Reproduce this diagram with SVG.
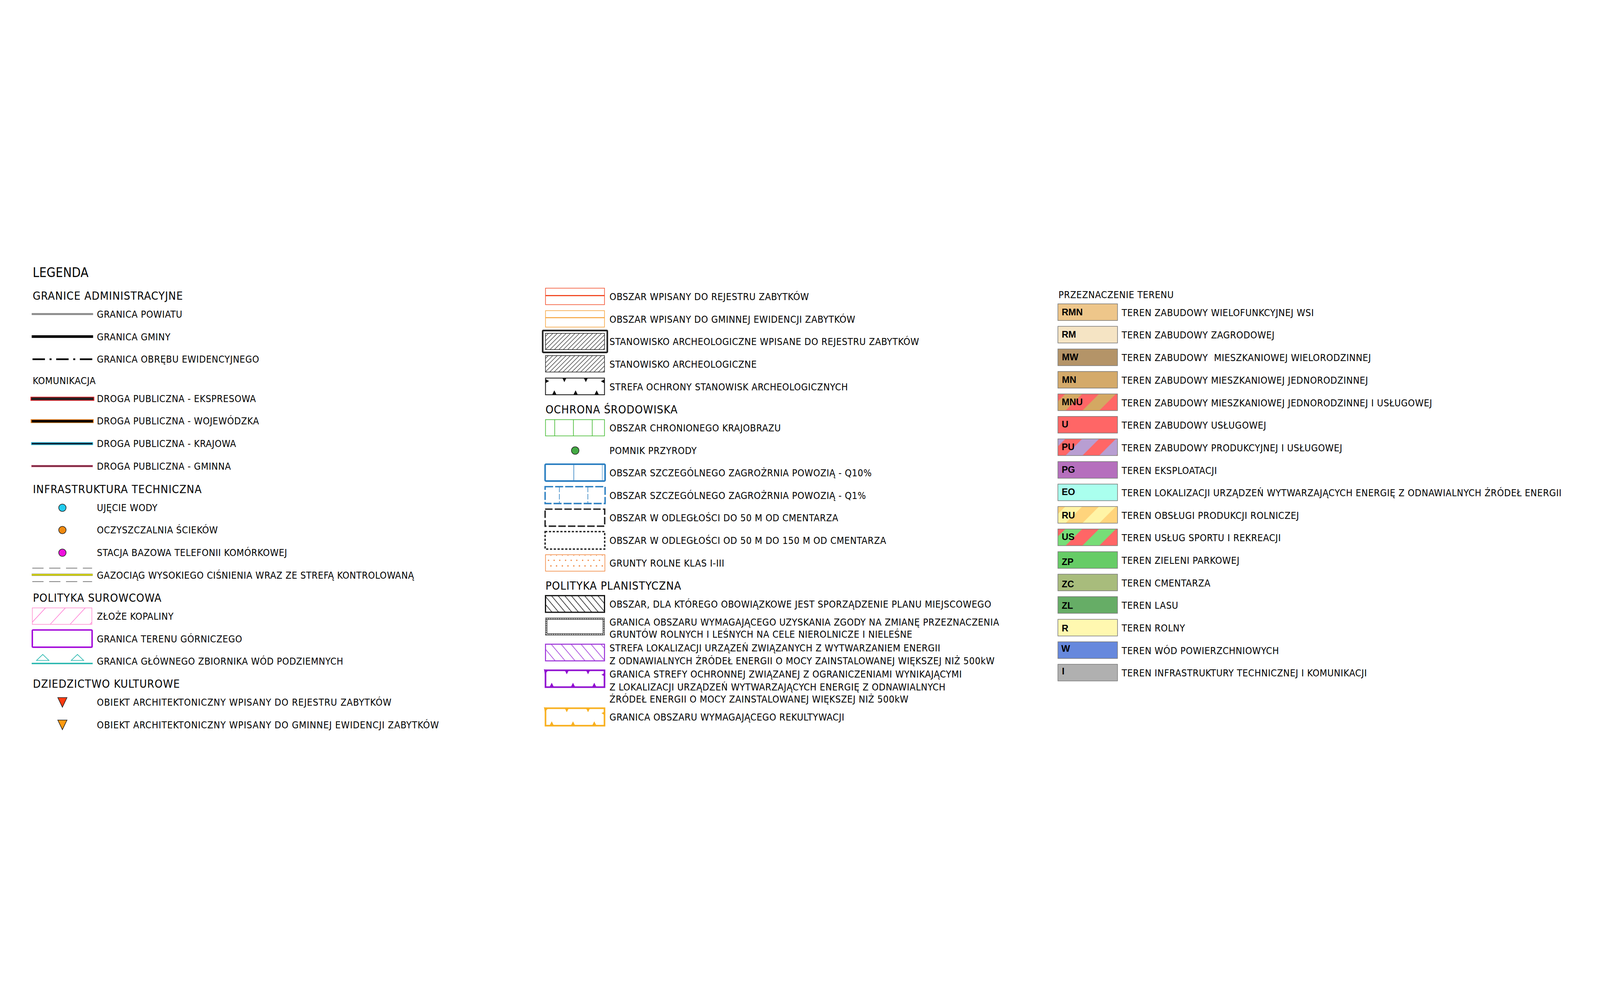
<svg xmlns="http://www.w3.org/2000/svg" width="7975" height="2549" viewBox="0 0 7975 2549">
<style>
svg:root{width:100vw;height:100vh}
text{font-family:"DejaVu Sans Condensed","DejaVu Sans",sans-serif;font-stretch:condensed;font-size:48px;letter-spacing:1.2px;fill:#000}
.h{font-size:56px;letter-spacing:2px}
.lg{font-size:64px;letter-spacing:0.5px}
.lb{font-family:"Liberation Sans",Arial,sans-serif;font-stretch:normal;font-weight:bold;font-size:46px;letter-spacing:0}
.bx{stroke:#7a7a7a;stroke-width:3}
.nf{fill:none}
</style>
<defs>
<pattern id="hatchSlash" patternUnits="userSpaceOnUse" width="15.6" height="20" patternTransform="rotate(45)">
<line x1="7.8" y1="0" x2="7.8" y2="20" stroke="#222" stroke-width="2.5"/>
</pattern>
<pattern id="hatchBack" patternUnits="userSpaceOnUse" width="25.3" height="20" patternTransform="rotate(-40)">
<line x1="12" y1="0" x2="12" y2="20" stroke="#111" stroke-width="3"/>
</pattern>
<pattern id="hatchPurple" patternUnits="userSpaceOnUse" width="38" height="20" patternTransform="rotate(-40)">
<line x1="19" y1="0" x2="19" y2="20" stroke="#9b30d8" stroke-width="3"/>
</pattern>
<pattern id="stMNU" patternUnits="userSpaceOnUse" x="102" y="0" width="168" height="168">
<rect width="168" height="168" fill="#d4a862"/>
<path d="M0,0H84L0,84Z M168,0V84L84,168H0Z" fill="#ff6666"/>
</pattern>
<pattern id="stPU" patternUnits="userSpaceOnUse" x="158" y="0" width="168" height="168">
<rect width="168" height="168" fill="#ff6666"/>
<path d="M0,0H84L0,84Z M168,0V84L84,168H0Z" fill="#b89ed2"/>
</pattern>
<pattern id="stRU" patternUnits="userSpaceOnUse" x="159" y="0" width="168" height="168">
<rect width="168" height="168" fill="#fff4a6"/>
<path d="M0,0H84L0,84Z M168,0V84L84,168H0Z" fill="#ffd47c"/>
</pattern>
<pattern id="stUS" patternUnits="userSpaceOnUse" x="103" y="0" width="168" height="168">
<rect width="168" height="168" fill="#77dd77"/>
<path d="M0,0H84L0,84Z M168,0V84L84,168H0Z" fill="#ff6666"/>
</pattern>
<clipPath id="clipZloze"><rect x="161" y="1822" width="297" height="82"/></clipPath>
<path id="tDown" d="M-10,0L10,0L0,20Z"/>
<path id="tUp" d="M-11,0L11,0L0,-22Z"/>
<path id="tRight" d="M0,-10L0,10L18,0Z"/>
<path id="tLeft" d="M0,-10L0,10L-18,0Z"/>
</defs>

<g id="legend-title"><text class="lg" x="163" y="173">LEGENDA</text></g>

<g id="left-column">
<g id="h-granice"><text class="h" x="163" y="286">GRANICE ADMINISTRACYJNE</text></g>
<g id="granica-powiatu"><line x1="158" y1="358" x2="464" y2="358" stroke="#8c8c8c" stroke-width="10"/><text x="483" y="376">GRANICA POWIATU</text></g>
<g id="granica-gminy"><line x1="158" y1="470" x2="464" y2="470" stroke="#000" stroke-width="13"/><text x="483" y="488">GRANICA GMINY</text></g>
<g id="granica-obrebu"><line x1="162" y1="583" x2="461" y2="583" stroke="#000" stroke-width="8" stroke-dasharray="62 23 10 23"/><text x="483" y="600">GRANICA OBRĘBU EWIDENCYJNEGO</text></g>
<g id="h-komunikacja"><text x="163" y="707">KOMUNIKACJA</text></g>
<g id="droga-ekspresowa"><rect x="152" y="770" width="318" height="20" fill="#e31e24"/><rect x="156" y="773.5" width="310" height="13" fill="#231f20"/><text x="483" y="797">DROGA PUBLICZNA - EKSPRESOWA</text></g>
<g id="droga-wojewodzka"><rect x="153" y="882" width="314" height="19" fill="#e07b1a"/><rect x="158" y="886" width="305" height="12" fill="#000"/><text x="483" y="908">DROGA PUBLICZNA - WOJEWÓDZKA</text></g>
<g id="droga-krajowa"><rect x="155" y="996" width="309" height="15" fill="#3cc8e8"/><rect x="158" y="999.5" width="303" height="8" fill="#123"/><text x="483" y="1021">DROGA PUBLICZNA - KRAJOWA</text></g>
<g id="droga-gminna"><rect x="156" y="1110" width="307" height="11" fill="#e06a86"/><rect x="158" y="1113" width="303" height="5" fill="#55142e"/><text x="483" y="1133">DROGA PUBLICZNA - GMINNA</text></g>
<g id="h-infrastruktura"><text class="h" x="164" y="1250">INFRASTRUKTURA TECHNICZNA</text></g>
<g id="ujecie-wody"><circle cx="311" cy="1323" r="18.5" fill="#22ccee" stroke="#222" stroke-width="3"/><text x="483" y="1339">UJĘCIE WODY</text></g>
<g id="oczyszczalnia"><circle cx="311" cy="1434" r="18.5" fill="#f08a10" stroke="#222" stroke-width="3"/><text x="483" y="1450">OCZYSZCZALNIA ŚCIEKÓW</text></g>
<g id="stacja-bazowa"><circle cx="311" cy="1547" r="18.5" fill="#ee11dd" stroke="#222" stroke-width="3"/><text x="483" y="1563">STACJA BAZOWA TELEFONII KOMÓRKOWEJ</text></g>
<g id="gazociag"><line x1="161" y1="1624" x2="459" y2="1624" stroke="#555" stroke-width="3" stroke-dasharray="56 28"/><line x1="158" y1="1657" x2="462" y2="1657" stroke="#6b6b10" stroke-width="10"/><line x1="158" y1="1657" x2="462" y2="1657" stroke="#f5f500" stroke-width="5"/><line x1="161" y1="1691" x2="459" y2="1691" stroke="#555" stroke-width="3" stroke-dasharray="56 28"/><text x="483" y="1677">GAZOCIĄG WYSOKIEGO CIŚNIENIA WRAZ ZE STREFĄ KONTROLOWANĄ</text></g>
<g id="h-surowcowa"><text class="h" x="164" y="1792">POLITYKA SUROWCOWA</text></g>
<g id="zloze"><g clip-path="url(#clipZloze)" stroke="#ff66cc" stroke-width="2.5"><line x1="227" y1="1822" x2="151" y2="1904"/><line x1="326" y1="1822" x2="250" y2="1904"/><line x1="425" y1="1822" x2="349" y2="1904"/><line x1="524" y1="1822" x2="448" y2="1904"/></g><rect x="161" y="1822" width="297" height="82" class="nf" stroke="#ff8fd0" stroke-width="3"/><text x="483" y="1881">ZŁOŻE KOPALINY</text></g>
<g id="teren-gorniczy"><rect x="161" y="1932" width="298" height="86" rx="4" class="nf" stroke="#a000d8" stroke-width="7"/><text x="483" y="1993">GRANICA TERENU GÓRNICZEGO</text></g>
<g id="gzwp"><path d="M213,2054L244,2084H182Z M386,2054L417,2084H355Z" fill="#fff" stroke="#22b5ad" stroke-width="3"/><line x1="158" y1="2099" x2="462" y2="2099" stroke="#22b5ad" stroke-width="7"/><text x="483" y="2105">GRANICA GŁÓWNEGO ZBIORNIKA WÓD PODZIEMNYCH</text></g>
<g id="h-dziedzictwo"><text class="h" x="164" y="2220">DZIEDZICTWO KULTUROWE</text></g>
<g id="obiekt-rejestr"><path d="M288,2269H334L311,2317Z" fill="#ff3a10" stroke="#222" stroke-width="3"/><text x="483" y="2309" style="letter-spacing:1.8px">OBIEKT ARCHITEKTONICZNY WPISANY DO REJESTRU ZABYTKÓW</text></g>
<g id="obiekt-ewidencja"><path d="M288,2381H334L311,2429Z" fill="#ff9a10" stroke="#222" stroke-width="3"/><text x="483" y="2423" style="letter-spacing:1.8px">OBIEKT ARCHITEKTONICZNY WPISANY DO GMINNEJ EWIDENCJI ZABYTKÓW</text></g>
</g>

<g id="middle-column">
<g id="obszar-rejestr"><rect x="2719" y="229" width="294" height="82" class="nf" stroke="#f24a26" stroke-width="3"/><line x1="2719" y1="266" x2="3013" y2="266" stroke="#f24a26" stroke-width="6"/><text x="3038" y="289">OBSZAR WPISANY DO REJESTRU ZABYTKÓW</text></g>
<g id="obszar-ewidencja"><rect x="2719" y="341" width="294" height="82" class="nf" stroke="#f5a23a" stroke-width="3"/><line x1="2719" y1="376" x2="3013" y2="376" stroke="#f5a23a" stroke-width="5"/><text x="3038" y="402">OBSZAR WPISANY DO GMINNEJ EWIDENCJI ZABYTKÓW</text></g>
<g id="stanowisko-rejestr"><rect x="2705" y="440" width="322" height="109" rx="4" class="nf" stroke="#222" stroke-width="8"/><rect x="2719" y="454" width="294" height="81" fill="url(#hatchSlash)" stroke="#222" stroke-width="3"/><text x="3038" y="512">STANOWISKO ARCHEOLOGICZNE WPISANE DO REJESTRU ZABYTKÓW</text></g>
<g id="stanowisko"><rect x="2719" y="565" width="294" height="82" fill="url(#hatchSlash)" stroke="#222" stroke-width="3"/><text x="3038" y="626">STANOWISKO ARCHEOLOGICZNE</text></g>
<g id="strefa-stanowisk"><rect x="2719" y="677" width="294" height="83" class="nf" stroke="#111" stroke-width="4"/><g fill="#111"><use href="#tDown" x="2813" y="677"/><use href="#tDown" x="2920" y="677"/><use href="#tUp" x="2763" y="760"/><use href="#tUp" x="2869" y="760"/><use href="#tUp" x="2974" y="760"/><use href="#tRight" x="2719" y="692"/><use href="#tLeft" x="3013" y="693"/></g><text x="3038" y="738">STREFA OCHRONY STANOWISK ARCHEOLOGICZNYCH</text></g>
<g id="h-ochrona"><text class="h" x="2719" y="853">OCHRONA ŚRODOWISKA</text></g>
<g id="krajobraz"><rect x="2719" y="884" width="294" height="81" class="nf" stroke="#3cb829" stroke-width="3"/><path d="M2765,884V965M2858,884V965M2952,884V965" stroke="#3cb829" stroke-width="3"/><text x="3038" y="942">OBSZAR CHRONIONEGO KRAJOBRAZU</text></g>
<g id="pomnik"><circle cx="2867" cy="1038" r="19" fill="#44aa44" stroke="#222" stroke-width="3"/><text x="3038" y="1056">POMNIK PRZYRODY</text></g>
<g id="q10"><rect x="2717" y="1106" width="299" height="84" rx="5" class="nf" stroke="#2b7fc1" stroke-width="8"/><path d="M2860,1106V1190" stroke="#2b7fc1" stroke-width="3"/><path d="M3002,1106V1190" stroke="#2b7fc1" stroke-width="2"/><text x="3038" y="1167">OBSZAR SZCZEGÓLNEGO ZAGROŻRNIA POWOZIĄ - Q10%</text></g>
<g id="q1"><rect x="2717" y="1218" width="299" height="84" class="nf" stroke="#2b7fc1" stroke-width="7" stroke-dasharray="40 10"/><path d="M2788,1218V1302M2930,1218V1302" stroke="#2b7fc1" stroke-width="3" stroke-dasharray="28 8"/><text x="3038" y="1279">OBSZAR SZCZEGÓLNEGO ZAGROŻRNIA POWOZIĄ - Q1%</text></g>
<g id="cmentarz50"><rect x="2717" y="1330" width="297" height="85" class="nf" stroke="#222" stroke-width="7" stroke-dasharray="37 11"/><text x="3038" y="1391">OBSZAR W ODLEGŁOŚCI DO 50 M OD CMENTARZA</text></g>
<g id="cmentarz150"><rect x="2717" y="1442" width="297" height="87" class="nf" stroke="#222" stroke-width="7" stroke-dasharray="11 8"/><text x="3038" y="1504">OBSZAR W ODLEGŁOŚCI OD 50 M DO 150 M OD CMENTARZA</text></g>
<g id="grunty"><rect x="2719" y="1557" width="296" height="82" class="nf" stroke="#f0843a" stroke-width="3"/><g fill="#f0843a"><circle cx="2734" cy="1585" r="3.5"/><circle cx="2762" cy="1585" r="3.5"/><circle cx="2790" cy="1585" r="3.5"/><circle cx="2819" cy="1585" r="3.5"/><circle cx="2847" cy="1585" r="3.5"/><circle cx="2875" cy="1585" r="3.5"/><circle cx="2904" cy="1585" r="3.5"/><circle cx="2932" cy="1585" r="3.5"/><circle cx="2960" cy="1585" r="3.5"/><circle cx="2988" cy="1585" r="3.5"/><circle cx="2746" cy="1613" r="3.5"/><circle cx="2774" cy="1613" r="3.5"/><circle cx="2803" cy="1613" r="3.5"/><circle cx="2831" cy="1613" r="3.5"/><circle cx="2860" cy="1613" r="3.5"/><circle cx="2888" cy="1613" r="3.5"/><circle cx="2916" cy="1613" r="3.5"/><circle cx="2945" cy="1613" r="3.5"/><circle cx="2973" cy="1613" r="3.5"/><circle cx="3002" cy="1613" r="3.5"/><circle cx="2746" cy="1561" r="2"/><circle cx="2774" cy="1561" r="2"/><circle cx="2803" cy="1561" r="2"/><circle cx="2831" cy="1561" r="2"/><circle cx="2860" cy="1561" r="2"/><circle cx="2888" cy="1561" r="2"/><circle cx="2916" cy="1561" r="2"/><circle cx="2945" cy="1561" r="2"/><circle cx="2973" cy="1561" r="2"/><circle cx="3002" cy="1561" r="2"/></g><text x="3038" y="1616">GRUNTY ROLNE KLAS I-III</text></g>
<g id="h-planistyczna"><text class="h" x="2719" y="1731">POLITYKA PLANISTYCZNA</text></g>
<g id="plan-miejscowy"><rect x="2719" y="1761" width="294" height="83" fill="url(#hatchBack)" stroke="#111" stroke-width="6"/><text x="3038" y="1821">OBSZAR, DLA KTÓREGO OBOWIĄZKOWE JEST SPORZĄDZENIE PLANU MIEJSCOWEGO</text></g>
<g id="zgoda"><rect x="2719" y="1872" width="294" height="86" class="nf" stroke="#111" stroke-width="2"/><rect x="2723" y="1876" width="286" height="78" class="nf" stroke="#111" stroke-width="5" stroke-dasharray="4 5"/><rect x="2727" y="1880" width="278" height="70" class="nf" stroke="#111" stroke-width="2"/><text x="3038" y="1910">GRANICA OBSZARU WYMAGAJĄCEGO UZYSKANIA ZGODY NA ZMIANĘ PRZEZNACZENIA</text><text x="3038" y="1970">GRUNTÓW ROLNYCH I LEŚNYCH NA CELE NIEROLNICZE I NIELEŚNE</text></g>
<g id="strefa-oze"><rect x="2719" y="2003" width="294" height="83" fill="url(#hatchPurple)" stroke="#9b30d8" stroke-width="5"/><text x="3038" y="2039">STREFA LOKALIZACJI URZĄZEŃ ZWIĄZANYCH Z WYTWARZANIEM ENERGII</text><text x="3038" y="2103">Z ODNAWIALNYCH ŹRÓDEŁ ENERGII O MOCY ZAINSTALOWANEJ WIĘKSZEJ NIŻ 500kW</text></g>
<g id="strefa-ochronna-oze"><rect x="2719" y="2133" width="294" height="84" class="nf" stroke="#9010d0" stroke-width="8"/><g fill="#9010d0"><use href="#tDown" x="2825" y="2133"/><use href="#tDown" x="2931" y="2133"/><use href="#tUp" x="2750" y="2217"/><use href="#tUp" x="2856" y="2217"/><use href="#tUp" x="2962" y="2217"/><path d="M2711,2127L2730,2136L2716,2152Z"/><use href="#tLeft" x="3016" y="2155"/></g><text x="3038" y="2169">GRANICA STREFY OCHRONNEJ ZWIĄZANEJ Z OGRANICZENIAMI WYNIKAJĄCYMI</text><text x="3038" y="2233">Z LOKALIZACJI URZĄDZEŃ WYTWARZAJĄCYCH ENERGIĘ Z ODNAWIALNYCH</text><text x="3038" y="2294">ŹRÓDEŁ ENERGII O MOCY ZAINSTALOWANEJ WIĘKSZEJ NIŻ 500kW</text></g>
<g id="rekultywacja"><rect x="2719" y="2322" width="294" height="87" class="nf" stroke="#f8b020" stroke-width="8"/><g fill="#f8b020"><use href="#tDown" x="2825" y="2322"/><use href="#tDown" x="2931" y="2322"/><use href="#tUp" x="2750" y="2409"/><use href="#tUp" x="2856" y="2409"/><use href="#tUp" x="2962" y="2409"/><path d="M2711,2316L2730,2325L2716,2341Z"/><use href="#tLeft" x="3016" y="2347"/></g><text x="3038" y="2384">GRANICA OBSZARU WYMAGAJĄCEGO REKULTYWACJI</text></g>
</g>

<g id="right-column">
<g id="h-przeznaczenie"><text x="5276" y="279">PRZEZNACZENIE TERENU</text></g>
<g id="RMN"><rect x="5273" y="307" width="297" height="83" fill="#eec68a" class="bx"/><text class="lb" x="5292" y="364">RMN</text><text x="5591" y="368">TEREN ZABUDOWY WIELOFUNKCYJNEJ WSI</text></g>
<g id="RM"><rect x="5273" y="419" width="297" height="83" fill="#f5e4c4" class="bx"/><text class="lb" x="5292" y="475">RM</text><text x="5591" y="480">TEREN ZABUDOWY ZAGRODOWEJ</text></g>
<g id="MW"><rect x="5273" y="532" width="297" height="83" fill="#b49468" class="bx"/><text class="lb" x="5293" y="588">MW</text><text x="5591" y="593" xml:space="preserve">TEREN ZABUDOWY  MIESZKANIOWEJ WIELORODZINNEJ</text></g>
<g id="MN"><rect x="5273" y="644" width="297" height="83" fill="#d4aa6a" class="bx"/><text class="lb" x="5293" y="702">MN</text><text x="5591" y="705">TEREN ZABUDOWY MIESZKANIOWEJ JEDNORODZINNEJ</text></g>
<g id="MNU"><rect x="5273" y="756" width="297" height="83" fill="url(#stMNU)" class="bx"/><text class="lb" x="5292" y="813">MNU</text><text x="5591" y="817">TEREN ZABUDOWY MIESZKANIOWEJ JEDNORODZINNEJ I USŁUGOWEJ</text></g>
<g id="U"><rect x="5273" y="868" width="297" height="83" fill="#ff6666" class="bx"/><text class="lb" x="5292" y="923">U</text><text x="5591" y="929">TEREN ZABUDOWY USŁUGOWEJ</text></g>
<g id="PU"><rect x="5273" y="980" width="297" height="83" fill="url(#stPU)" class="bx"/><text class="lb" x="5292" y="1036">PU</text><text x="5591" y="1041">TEREN ZABUDOWY PRODUKCYJNEJ I USŁUGOWEJ</text></g>
<g id="PG"><rect x="5273" y="1093" width="297" height="83" fill="#b56fbd" class="bx"/><text class="lb" x="5292" y="1148">PG</text><text x="5591" y="1154">TEREN EKSPLOATACJI</text></g>
<g id="EO"><rect x="5273" y="1205" width="297" height="83" fill="#aaffee" class="bx"/><text class="lb" x="5292" y="1260">EO</text><text x="5591" y="1266">TEREN LOKALIZACJI URZĄDZEŃ WYTWARZAJĄCYCH ENERGIĘ Z ODNAWIALNYCH ŹRÓDEŁ ENERGII</text></g>
<g id="RU"><rect x="5273" y="1317" width="297" height="83" fill="url(#stRU)" class="bx"/><text class="lb" x="5292" y="1376">RU</text><text x="5591" y="1378">TEREN OBSŁUGI PRODUKCJI ROLNICZEJ</text></g>
<g id="US"><rect x="5273" y="1429" width="297" height="83" fill="url(#stUS)" class="bx"/><text class="lb" x="5292" y="1483">US</text><text x="5591" y="1490">TEREN USŁUG SPORTU I REKREACJI</text></g>
<g id="ZP"><rect x="5273" y="1542" width="297" height="83" fill="#66cc66" class="bx"/><text class="lb" x="5292" y="1608">ZP</text><text x="5591" y="1603">TEREN ZIELENI PARKOWEJ</text></g>
<g id="ZC"><rect x="5273" y="1654" width="297" height="83" fill="#a8bc7c" class="bx"/><text class="lb" x="5292" y="1719">ZC</text><text x="5591" y="1715">TEREN CMENTARZA</text></g>
<g id="ZL"><rect x="5273" y="1766" width="297" height="83" fill="#66ad66" class="bx"/><text class="lb" x="5292" y="1826">ZL</text><text x="5591" y="1827">TEREN LASU</text></g>
<g id="R"><rect x="5273" y="1879" width="297" height="83" fill="#fff8b0" class="bx"/><text class="lb" x="5292" y="1940">R</text><text x="5591" y="1940">TEREN ROLNY</text></g>
<g id="W"><rect x="5273" y="1991" width="297" height="83" fill="#6688dd" class="bx"/><text class="lb" x="5290" y="2040">W</text><text x="5591" y="2052">TEREN WÓD POWIERZCHNIOWYCH</text></g>
<g id="I"><rect x="5273" y="2103" width="297" height="83" fill="#b0b0b0" class="bx"/><text class="lb" x="5293" y="2154">I</text><text x="5591" y="2164">TEREN INFRASTRUKTURY TECHNICZNEJ I KOMUNIKACJI</text></g>
</g>
<g id="connectors"/>
</svg>
